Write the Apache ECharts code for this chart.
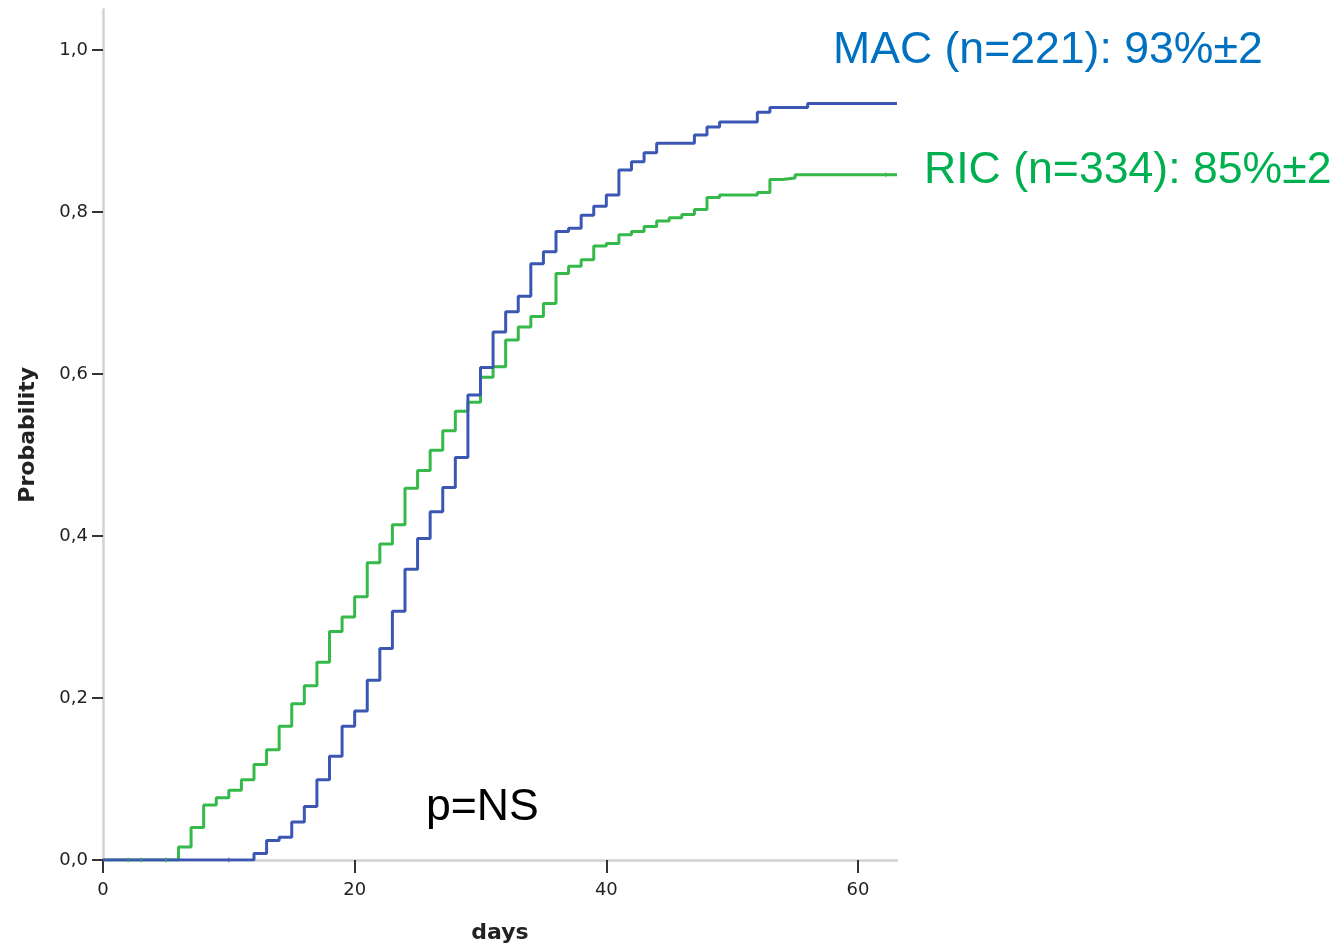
<!DOCTYPE html>
<html>
<head>
<meta charset="utf-8">
<script src="https://cdn.jsdelivr.net/npm/echarts@6/dist/echarts.min.js"></script>
<style>
  html, body { margin: 0; padding: 0; background: #ffffff; }
  #chart { width: 1344px; height: 949px; }
</style>
</head>
<body>
<div id="chart"></div>
<script>
// Cumulative incidence by day, step values that hold from each listed day onward
const macDays = [0, 12, 13, 14, 15, 16, 17, 18, 19, 20, 21, 22, 23, 24, 25, 26, 27, 28, 29, 30,
  31, 32, 33, 34, 35, 36, 37, 38, 39, 40, 41, 42, 43, 44, 47, 48, 49, 52, 53, 56, 63.1];
const macProb = [0, 0.008, 0.024, 0.028, 0.047, 0.066, 0.099, 0.128, 0.165, 0.184, 0.222, 0.261,
  0.307, 0.359, 0.397, 0.430, 0.460, 0.497, 0.574, 0.608, 0.652, 0.677, 0.696, 0.736, 0.751,
  0.776, 0.780, 0.796, 0.807, 0.821, 0.852, 0.862, 0.873, 0.885, 0.895, 0.905, 0.911, 0.923,
  0.929, 0.934, 0.934];

const ricDays = [0, 6, 7, 8, 9, 10, 11, 12, 13, 14, 15, 16, 17, 18, 19, 20, 21, 22, 23, 24, 25,
  26, 27, 28, 29, 30, 31, 32, 33, 34, 35, 36, 37, 38, 39, 40, 41, 42, 43, 44, 45, 46, 47, 48,
  49, 52, 53, 54, 55, 63.1];
const ricProb = [0, 0.016, 0.040, 0.068, 0.077, 0.086, 0.099, 0.118, 0.136, 0.165, 0.193, 0.215,
  0.244, 0.282, 0.300, 0.325, 0.367, 0.390, 0.414, 0.459, 0.481, 0.506, 0.530, 0.554, 0.565,
  0.596, 0.609, 0.642, 0.658, 0.671, 0.687, 0.724, 0.733, 0.741, 0.758, 0.761, 0.772, 0.776,
  0.782, 0.789, 0.793, 0.797, 0.803, 0.818, 0.821, 0.824, 0.840, 0.842, 0.846, 0.846];

// Censoring marks
const macCensorDays = [10];
const macCensorProb = [0];
const ricCensorDays = [2, 3, 5, 62.2];
const ricCensorProb = [0, 0, 0, 0.846];

const xTicks = [0, 20, 40, 60];
const yTicks = [0, 0.2, 0.4, 0.6, 0.8, 1.0];

const macLabel = 'MAC (n=221): 93%\u00B12';
const ricLabel = 'RIC (n=334): 85%\u00B12';
const pLabel = 'p=NS';

const BLUE = '#3b57b3';
const GREEN = '#35b94a';

const zip = (xs, ys) => xs.map((x, i) => [x, ys[i]]);

const chart = echarts.init(document.getElementById('chart'), null, { renderer: 'canvas' });

const tickFont = "'DejaVu Sans', sans-serif";
const labelFont = "44.6px 'Liberation Sans', Arial, sans-serif";

chart.setOption({
  backgroundColor: '#ffffff',
  animation: false,
  grid: { left: 103, right: 447, top: 9.5, bottom: 89, outerBoundsMode: 'none' },
  xAxis: {
    type: 'value',
    min: 0,
    max: 63.1,
    name: 'days',
    nameLocation: 'middle',
    nameGap: 62,
    nameTextStyle: { fontFamily: 'DejaVu Sans', fontWeight: 'bold', fontSize: 22, color: '#222' },
    axisLine: { show: true, onZero: false, lineStyle: { color: '#d2d2d2', width: 2.5 } },
    axisTick: { show: true, customValues: xTicks, length: 13, lineStyle: { color: '#333', width: 2 } },
    axisLabel: {
      customValues: xTicks, margin: 21,
      fontFamily: tickFont, fontSize: 18, color: '#222'
    },
    splitLine: { show: false }
  },
  yAxis: {
    type: 'value',
    min: 0,
    max: 1.05,
    name: 'Probability',
    nameLocation: 'middle',
    nameGap: 64,
    nameRotate: 90,
    nameTextStyle: { fontFamily: 'DejaVu Sans', fontWeight: 'bold', fontSize: 22, color: '#222' },
    axisLine: { show: true, onZero: false, lineStyle: { color: '#d2d2d2', width: 2.5 } },
    axisTick: { show: true, customValues: yTicks, length: 11, lineStyle: { color: '#333', width: 2 } },
    axisLabel: {
      customValues: yTicks, margin: 15,
      fontFamily: tickFont, fontSize: 18, color: '#222',
      formatter: v => v.toFixed(1).replace('.', ',')
    },
    splitLine: { show: false }
  },
  series: [
    {
      name: 'RIC', type: 'line', step: 'end', showSymbol: false,
      data: zip(ricDays, ricProb),
      lineStyle: { color: GREEN, width: 3 }, z: 3
    },
    {
      name: 'MAC', type: 'line', step: 'end', showSymbol: false,
      data: zip(macDays, macProb),
      lineStyle: { color: BLUE, width: 3 }, z: 4
    },
    {
      name: 'RIC censored', type: 'scatter', symbol: 'rect', symbolSize: [1.5, 5],
      data: zip(ricCensorDays, ricCensorProb),
      itemStyle: { color: GREEN, opacity: 0.6 }, z: 5
    },
    {
      name: 'MAC censored', type: 'scatter', symbol: 'rect', symbolSize: [1.5, 5],
      data: zip(macCensorDays, macCensorProb),
      itemStyle: { color: BLUE, opacity: 0.6 }, z: 5
    }
  ],
  graphic: [
    {
      type: 'text', left: 833, top: 28,
      style: { text: macLabel, fill: '#0070c0', font: labelFont }
    },
    {
      type: 'text', left: 924, top: 148,
      style: { text: ricLabel, fill: '#00b050', font: labelFont }
    },
    {
      type: 'text', left: 426, top: 785,
      style: { text: pLabel, fill: '#000000', font: labelFont }
    }
  ]
});
</script>
</body>
</html>
